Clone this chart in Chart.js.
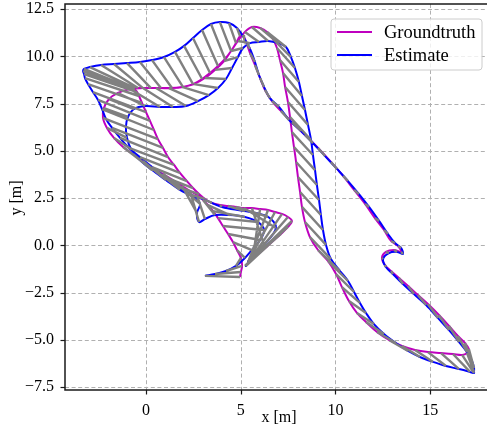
<!DOCTYPE html>
<html>
<head>
<meta charset="utf-8">
<script src="https://cdn.jsdelivr.net/npm/chart.js@4.4.1/dist/chart.umd.min.js"></script>
<style>
html,body{margin:0;padding:0;background:#fff;}
#c{display:block;}
</style>
</head>
<body>
<canvas id="c" width="487" height="432"></canvas>
<script>
// Ground truth trajectory (x, y in metres)
const gtX = [
 4.96,5.01,5.07,5.01,4.80,4.59,4.33,4.06,3.80,3.54,3.27,3.01,2.69,2.32,1.90,1.42,
 0.90,0.37,-0.16,-0.69,-1.21,-1.69,-2.06,-2.27,-2.22,-1.95,-1.48,-0.84,
 -0.16,0.53,1.21,1.90,2.53,3.11,3.64,4.12,4.49,4.85,5.22,5.59,6.02,6.39,6.70,
 6.91,7.07,7.23,7.34,7.49,7.60,7.70,7.81,7.92,8.02,8.13,8.23,8.39,8.65,9.08,9.60,10.03,10.34,10.71,11.13,
 11.61,12.19,12.82,13.51,14.20,14.88,15.57,16.20,16.68,
 16.94,17.04,16.83,
 16.46,15.99,15.46,14.88,14.35,13.83,13.35,12.93,12.61,12.45,12.66,13.09,13.46,13.30,12.93,12.56,12.08,11.56,10.98,10.40,9.76,9.08,8.39,7.70,7.12,6.65,6.28,6.02,5.75,5.49,5.28,5.12,
 4.96,4.75,4.49,4.17,3.80,3.38,2.96,2.48,1.95,1.37,0.79,0.26,-0.16,-0.42,-0.58,-0.63,
 -0.58,-0.47,-0.37,
 -0.21,0.00,0.21,0.42,0.63,0.90,1.16,1.48,1.79,2.16,2.48,2.80,3.11,3.48,
 3.90,4.33,4.75,5.17,5.59,6.02,6.44,6.81,7.18,7.49,7.70,7.49,7.12,6.70,6.23,5.80
];
const gtY = [
 -1.68,-1.41,-1.09,-0.67,-0.25,0.17,0.60,1.02,1.44,1.81,2.13,2.40,2.66,2.87,3.14,3.45,
 3.77,4.09,4.46,4.83,5.20,5.68,6.21,6.74,7.26,7.74,8.06,8.27,
 8.32,8.32,8.32,8.38,8.53,8.85,9.28,9.75,10.28,10.81,11.29,11.55,11.50,11.29,10.92,
 10.44,9.80,9.12,8.38,7.58,6.79,5.99,5.20,4.41,3.61,2.82,2.03,1.23,0.44,-0.25,-0.83,-1.52,-2.21,-2.95,-3.58,
 -4.06,-4.59,-5.01,-5.33,-5.54,-5.65,-5.70,-5.75,-5.80,
 -5.70,-5.49,-5.17,
 -4.80,-4.27,-3.69,-3.11,-2.63,-2.15,-1.73,-1.36,-1.04,-0.67,-0.35,-0.25,-0.35,-0.04,0.23,0.81,1.44,2.19,2.93,3.67,4.41,5.15,5.84,6.52,7.11,7.63,8.22,8.85,9.54,10.17,10.76,11.13,
 11.07,10.70,10.28,9.86,9.49,9.12,8.80,8.53,8.38,8.32,8.32,8.32,8.32,8.32,8.32,8.27,
 8.22,8.11,7.90,
 7.53,7.05,6.58,6.10,5.62,5.15,4.67,4.25,3.83,3.40,3.03,2.71,2.45,2.24,
 2.13,2.08,2.03,1.97,1.97,1.92,1.87,1.76,1.66,1.50,1.29,0.97,0.60,0.23,-0.20,-0.56
];
// Estimated trajectory (same timestamps)
const estX = [
 3.11,3.64,4.22,4.75,5.22,5.59,6.02,6.23,5.91,5.22,4.43,3.64,3.11,2.80,2.69,2.85,
 2.48,1.79,1.06,0.32,-0.32,-0.79,-1.00,-1.06,-0.95,-0.63,-0.05,0.74,
 1.42,2.11,2.74,3.32,3.80,4.22,4.54,4.85,5.12,5.49,5.96,6.44,6.97,7.39,7.65,
 7.86,8.07,8.23,8.39,8.55,8.71,8.81,8.92,9.02,9.13,9.23,9.34,9.50,9.76,10.24,10.66,10.98,11.29,11.61,12.03,
 12.56,13.19,13.83,14.46,15.15,15.83,16.52,17.10,17.31,
 17.31,17.31,17.20,
 16.94,16.52,15.99,15.41,14.78,14.14,13.56,13.03,12.66,12.51,12.82,13.25,13.56,13.46,13.14,12.77,12.30,11.77,11.24,10.66,10.08,9.45,8.81,8.18,7.55,7.02,6.54,6.23,5.96,5.75,5.49,5.17,
 4.80,4.38,3.90,3.43,2.96,2.48,2.01,1.53,0.95,0.32,-0.32,-1.00,-1.69,-2.37,-2.96,-3.27,
 -3.32,-3.27,-3.22,
 -3.06,-2.80,-2.53,-2.32,-2.11,-1.79,-1.37,-0.90,-0.32,0.32,1.00,1.69,2.43,3.11,
 4.01,5.22,6.44,6.86,6.23,5.65,5.43,5.38,5.38,5.33,5.33,5.28,5.28,5.28,5.22,5.22
];
const estY = [
 -1.62,-1.52,-1.36,-1.09,-0.67,-0.25,0.28,0.81,1.23,1.50,1.60,1.60,1.39,1.23,1.71,2.19,
 2.56,2.93,3.45,3.98,4.51,5.09,5.68,6.26,6.79,7.21,7.37,7.32,
 7.32,7.37,7.63,7.95,8.32,8.80,9.38,9.96,10.44,10.70,10.76,10.81,10.70,10.49,9.96,
 9.38,8.64,7.90,7.16,6.37,5.57,4.78,3.98,3.19,2.40,1.60,0.81,0.02,-0.73,-1.36,-1.89,-2.47,-3.05,-3.58,-4.17,
 -4.69,-5.17,-5.59,-5.91,-6.17,-6.39,-6.55,-6.70,-6.76,
 -6.70,-6.49,-6.12,
 -5.65,-5.12,-4.49,-3.85,-3.16,-2.58,-2.05,-1.52,-1.15,-0.73,-0.41,-0.35,-0.46,-0.14,0.12,0.60,1.29,2.03,2.71,3.40,4.04,4.72,5.41,6.05,6.63,7.32,7.79,8.38,9.01,9.70,10.39,10.97,
 11.50,11.76,11.81,11.71,11.39,10.97,10.55,10.23,9.96,9.80,9.70,9.64,9.59,9.54,9.43,9.33,
 9.22,9.06,8.85,
 8.53,8.11,7.69,7.21,6.68,6.21,5.68,5.15,4.67,4.14,3.61,3.09,2.66,2.40,
 2.03,1.81,1.50,0.92,0.02,-0.57,-0.78,-0.88,-0.94,-0.99,-0.99,-1.04,-1.04,-1.09,-1.09,-1.09
];
const xTicks = [0, 5, 10, 15];
const yTicks = [-7.5, -5.0, -2.5, 0.0, 2.5, 5.0, 7.5, 10.0, 12.5];
const seriesNames = ['Groundtruth', 'Estimate'];
const seriesColors = ['#bf00bf', '#0000ff'];

const gt = gtX.map((x, i) => ({x: x, y: gtY[i]}));
const est = estX.map((x, i) => ({x: x, y: estY[i]}));
const links = [];
gtX.forEach((x, i) => {
  links.push({x: x, y: gtY[i]});
  links.push({x: estX[i], y: estY[i]});
  links.push({x: estX[i], y: null});
});

const SERIF = '"Liberation Serif", "DejaVu Serif", serif';
const fmtMinus = s => s.replace('-', '\u2212');
const noPad = s => { s.paddingTop = 0; s.paddingBottom = 0; s.paddingLeft = 0; s.paddingRight = 0; };

const decor = {
  id: 'decor',
  beforeDatasetsDraw(chart) {
    const {ctx, chartArea: a, scales: {x, y}} = chart;
    ctx.save();
    ctx.strokeStyle = '#b0b0b0';
    ctx.lineWidth = 1;
    ctx.setLineDash([4, 2.6]);
    xTicks.forEach(v => {
      const p = Math.round(x.getPixelForValue(v)) + 0.5;
      ctx.beginPath(); ctx.moveTo(p, a.top); ctx.lineTo(p, a.bottom); ctx.stroke();
    });
    yTicks.forEach(v => {
      const p = Math.round(y.getPixelForValue(v)) + 0.5;
      ctx.beginPath(); ctx.moveTo(a.left, p); ctx.lineTo(a.right, p); ctx.stroke();
    });
    ctx.restore();
  },
  afterDraw(chart) {
    const {ctx, chartArea: a, scales: {x, y}} = chart;
    ctx.save();
    // spines
    ctx.strokeStyle = '#1a1a1a';
    ctx.lineWidth = 1.5;
    ctx.beginPath();
    ctx.moveTo(a.right + 2, a.top); ctx.lineTo(a.left, a.top); ctx.lineTo(a.left, a.bottom); ctx.lineTo(a.right + 2, a.bottom);
    ctx.stroke();
    // tick marks
    ctx.lineWidth = 1.2;
    xTicks.forEach(v => {
      const p = Math.round(x.getPixelForValue(v)) + 0.5;
      ctx.beginPath(); ctx.moveTo(p, a.bottom); ctx.lineTo(p, a.bottom + 4.5); ctx.stroke();
    });
    yTicks.forEach(v => {
      const p = Math.round(y.getPixelForValue(v)) + 0.5;
      ctx.beginPath(); ctx.moveTo(a.left, p); ctx.lineTo(a.left - 4.5, p); ctx.stroke();
    });
    // axis titles
    ctx.fillStyle = '#000';
    ctx.font = '16px ' + SERIF;
    ctx.textAlign = 'center';
    ctx.textBaseline = 'middle';
    ctx.fillText('x [m]', 279, 418);
    ctx.save();
    ctx.translate(17, 198);
    ctx.rotate(-Math.PI / 2);
    ctx.fillText('y [m]', 0, 0);
    ctx.restore();
    // legend
    const bx = 331, by = 19, bw = 151, bh = 51, r = 3;
    ctx.beginPath();
    ctx.moveTo(bx + r, by);
    ctx.arcTo(bx + bw, by, bx + bw, by + bh, r);
    ctx.arcTo(bx + bw, by + bh, bx, by + bh, r);
    ctx.arcTo(bx, by + bh, bx, by, r);
    ctx.arcTo(bx, by, bx + bw, by, r);
    ctx.closePath();
    ctx.fillStyle = 'rgba(255,255,255,0.8)';
    ctx.fill();
    ctx.strokeStyle = '#cccccc';
    ctx.lineWidth = 1;
    ctx.stroke();
    ctx.textAlign = 'left';
    ctx.font = '18.5px ' + SERIF;
    seriesNames.forEach((name, i) => {
      const ly = 32 + i * 23;
      ctx.strokeStyle = seriesColors[i];
      ctx.lineWidth = 2;
      ctx.beginPath(); ctx.moveTo(337, ly); ctx.lineTo(372, ly); ctx.stroke();
      ctx.fillStyle = '#000';
      ctx.fillText(name, 384, ly + 1);
    });
    ctx.restore();
  }
};

new Chart(document.getElementById('c'), {
  type: 'scatter',
  data: {
    datasets: [
      {label: 'diff', data: links, showLine: true, spanGaps: false, borderColor: '#808080', borderWidth: 2.4, pointRadius: 0, order: 0},
      {label: seriesNames[1], data: est, showLine: true, borderColor: seriesColors[1], borderWidth: 2, pointRadius: 0, tension: 0.35, order: 1},
      {label: seriesNames[0], data: gt, showLine: true, borderColor: seriesColors[0], borderWidth: 2, pointRadius: 0, tension: 0.35, order: 2}
    ]
  },
  options: {
    responsive: false,
    animation: false,
    devicePixelRatio: 1,
    layout: {padding: {top: 4, right: 0, bottom: 0, left: 0}},
    plugins: {legend: {display: false}, tooltip: {enabled: false}},
    scales: {
      x: {
        type: 'linear', min: -4.274, max: 17.995,
        afterBuildTicks: s => { s.ticks = xTicks.map(v => ({value: v})); },
        afterFit: s => { s.height = 42; noPad(s); },
        grid: {display: false, drawTicks: false},
        border: {display: false},
        ticks: {color: '#000', padding: 11, font: {family: SERIF, size: 16}, callback: v => fmtMinus(String(v))}
      },
      y: {
        type: 'linear', min: -7.656, max: 12.767,
        afterBuildTicks: s => { s.ticks = yTicks.map(v => ({value: v})); },
        afterFit: s => { s.width = 65; noPad(s); },
        grid: {display: false, drawTicks: false},
        border: {display: false},
        ticks: {color: '#000', padding: 11, font: {family: SERIF, size: 16}, callback: v => fmtMinus(Number(v).toFixed(1))}
      }
    }
  },
  plugins: [decor]
});
</script>
</body>
</html>
